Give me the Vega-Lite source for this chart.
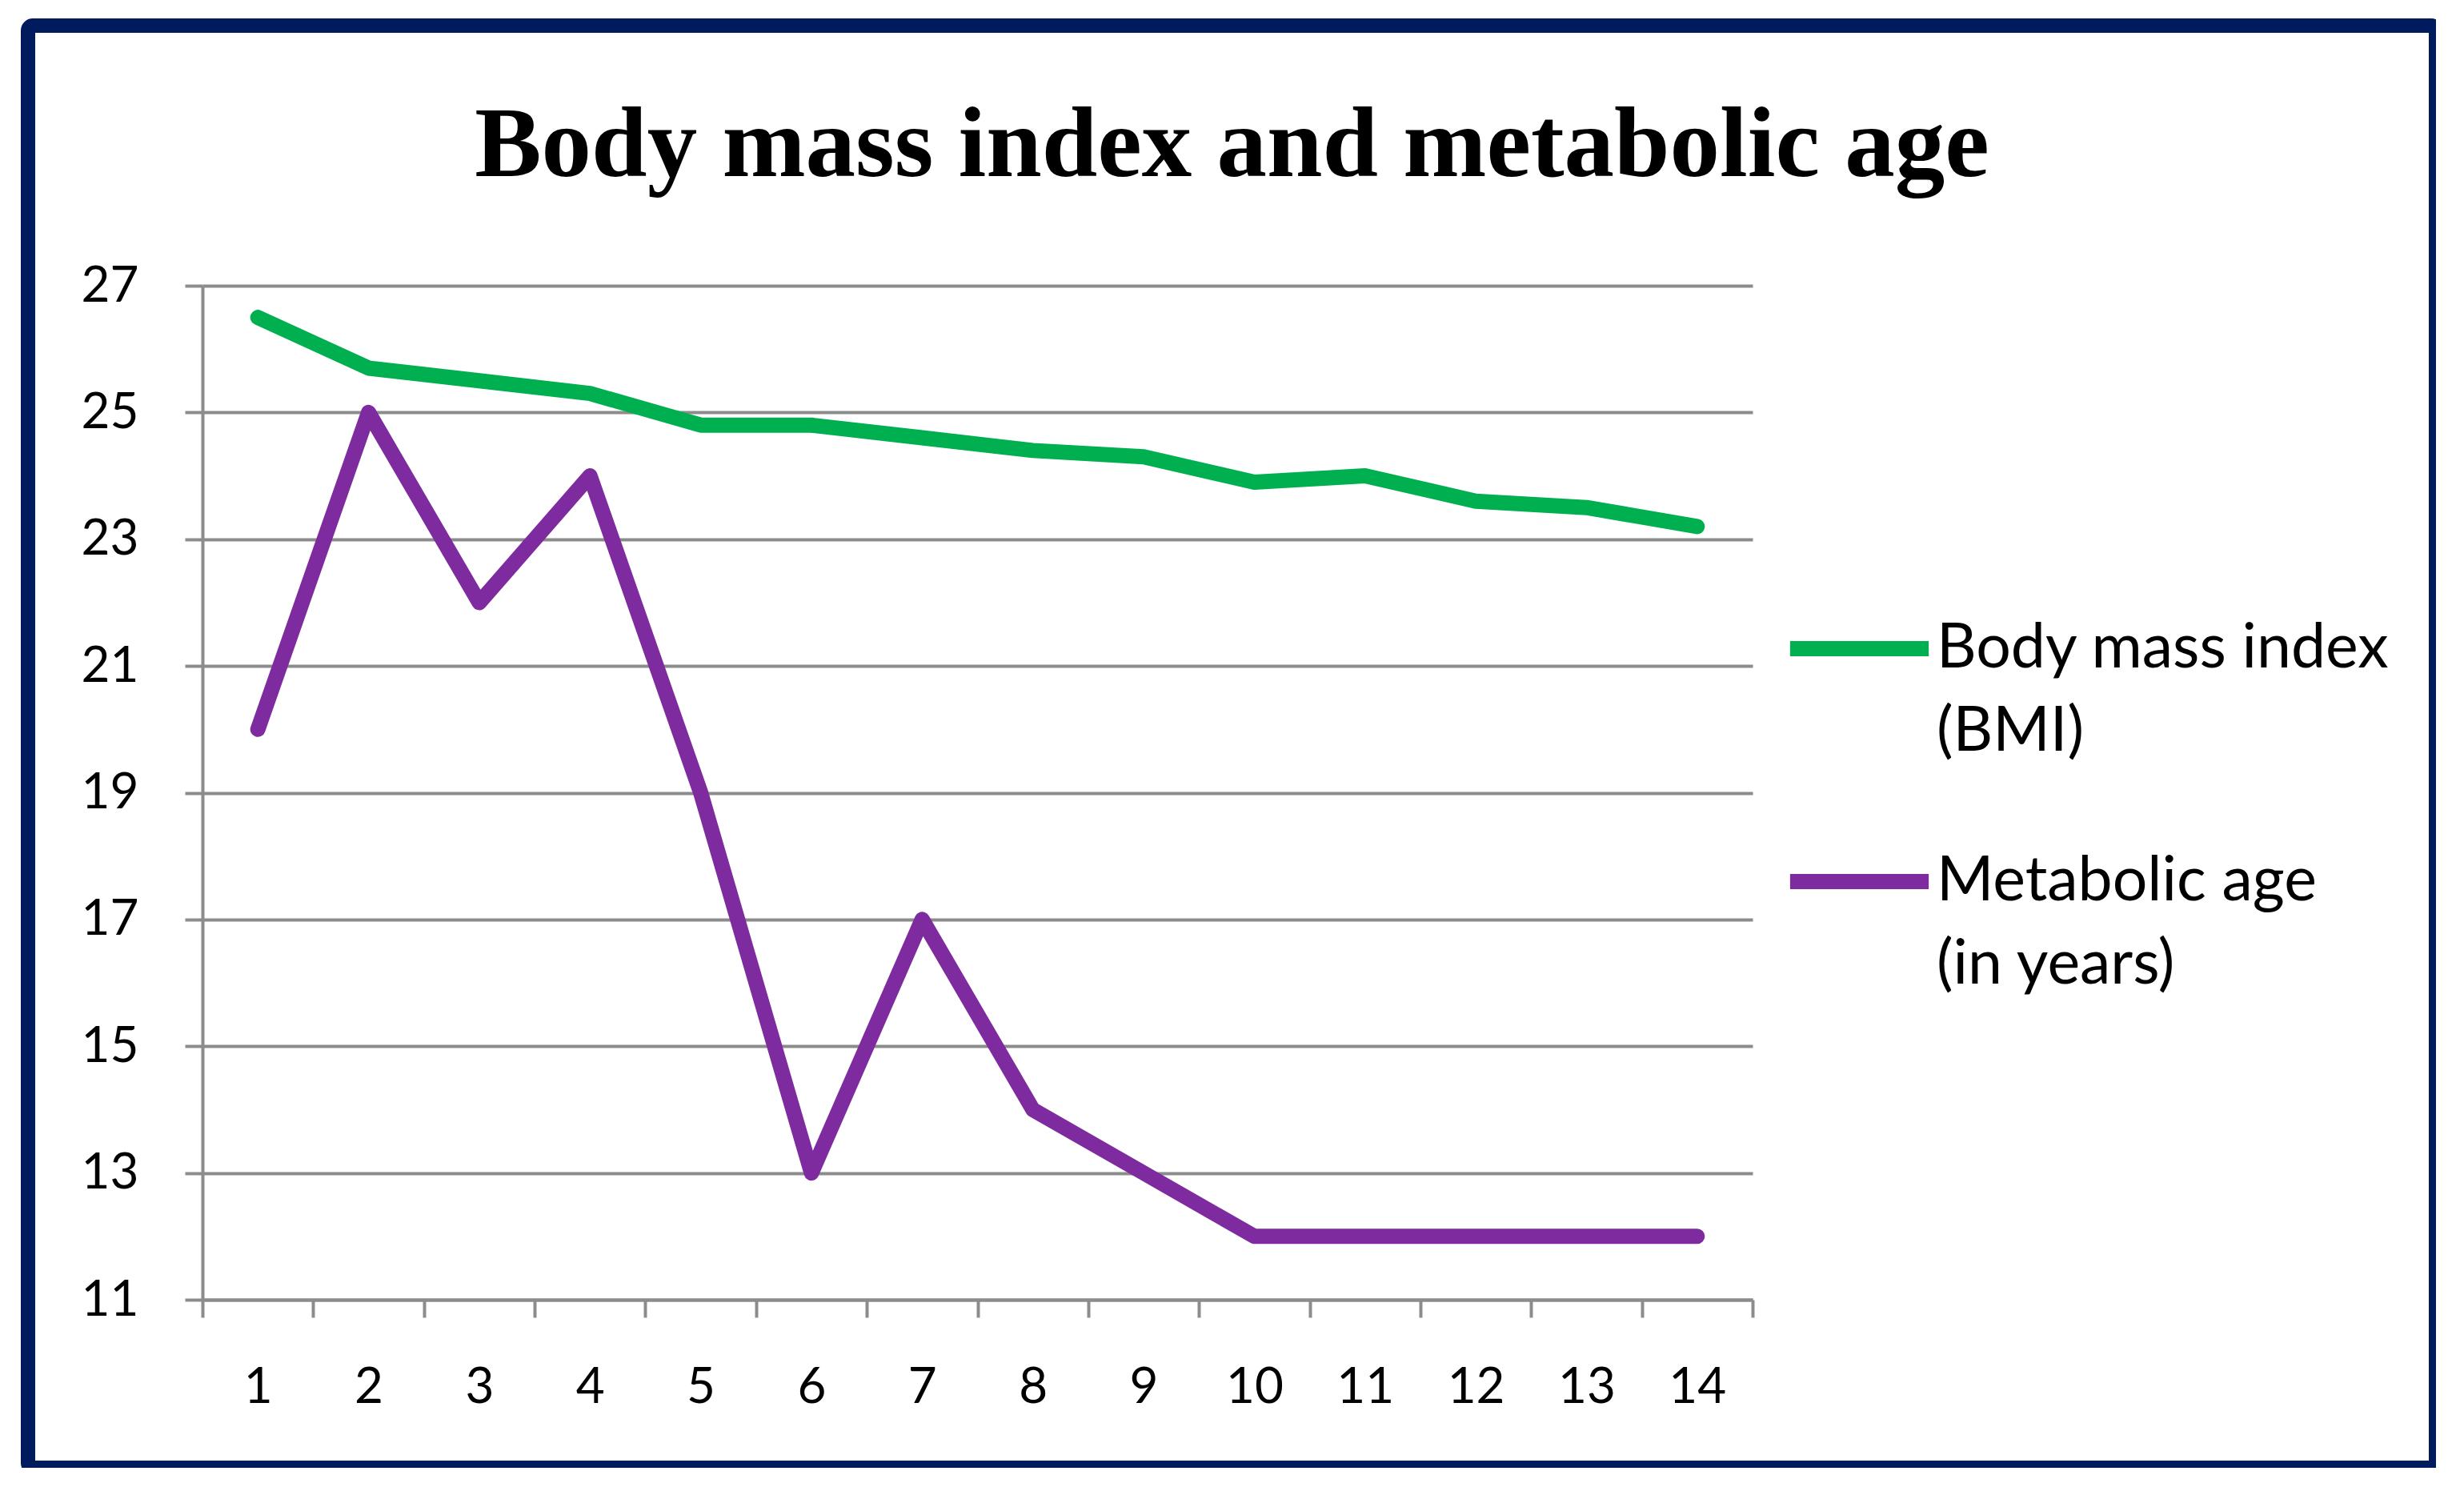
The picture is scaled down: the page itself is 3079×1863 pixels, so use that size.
{
  "$schema": "https://vega.github.io/schema/vega-lite/v6.json",
  "width": 3009,
  "height": 1802,
  "autosize": {"type": "none"},
  "padding": {"left": 35, "top": 32, "right": 0, "bottom": 0},
  "background": "white",
  "title": {
    "text": "Body mass index and metabolic age",
    "font": "Liberation Serif",
    "fontWeight": "bold",
    "fontSize": 125,
    "color": "black",
    "anchor": "middle",
    "frame": "group",
    "baseline": "alphabetic",
    "offset": -313
  },
  "config": {
    "view": {"stroke": "#001A5E", "strokeWidth": 18, "cornerRadius": 6},
    "style": {"guide-label": {"lineHeight": 104}}
  },
  "data": {
    "values": [
      {"point": 1, "series": "Body mass index (BMI)", "value": 26.5},
      {"point": 2, "series": "Body mass index (BMI)", "value": 25.7},
      {"point": 3, "series": "Body mass index (BMI)", "value": 25.5},
      {"point": 4, "series": "Body mass index (BMI)", "value": 25.3},
      {"point": 5, "series": "Body mass index (BMI)", "value": 24.8},
      {"point": 6, "series": "Body mass index (BMI)", "value": 24.8},
      {"point": 7, "series": "Body mass index (BMI)", "value": 24.6},
      {"point": 8, "series": "Body mass index (BMI)", "value": 24.4},
      {"point": 9, "series": "Body mass index (BMI)", "value": 24.3},
      {"point": 10, "series": "Body mass index (BMI)", "value": 23.9},
      {"point": 11, "series": "Body mass index (BMI)", "value": 24.0},
      {"point": 12, "series": "Body mass index (BMI)", "value": 23.6},
      {"point": 13, "series": "Body mass index (BMI)", "value": 23.5},
      {"point": 14, "series": "Body mass index (BMI)", "value": 23.2},
      {"point": 1, "series": "Metabolic age (in years)", "value": 20},
      {"point": 2, "series": "Metabolic age (in years)", "value": 25},
      {"point": 3, "series": "Metabolic age (in years)", "value": 22},
      {"point": 4, "series": "Metabolic age (in years)", "value": 24},
      {"point": 5, "series": "Metabolic age (in years)", "value": 19},
      {"point": 6, "series": "Metabolic age (in years)", "value": 13},
      {"point": 7, "series": "Metabolic age (in years)", "value": 17},
      {"point": 8, "series": "Metabolic age (in years)", "value": 14},
      {"point": 9, "series": "Metabolic age (in years)", "value": 13},
      {"point": 10, "series": "Metabolic age (in years)", "value": 12},
      {"point": 11, "series": "Metabolic age (in years)", "value": 12},
      {"point": 12, "series": "Metabolic age (in years)", "value": 12},
      {"point": 13, "series": "Metabolic age (in years)", "value": 12},
      {"point": 14, "series": "Metabolic age (in years)", "value": 12}
    ]
  },
  "mark": {"type": "line", "strokeWidth": 19, "strokeCap": "round", "strokeJoin": "round"},
  "encoding": {
    "x": {
      "field": "point",
      "type": "ordinal",
      "scale": {"type": "band", "range": [218, 2155], "paddingInner": 0, "paddingOuter": 0},
      "axis": {
        "title": null,
        "tickBand": "extent",
        "offset": -210,
        "grid": false,
        "domainColor": "#8C8C8C",
        "domainWidth": 4,
        "tickColor": "#8C8C8C",
        "tickWidth": 4,
        "tickSize": 22,
        "labelFont": "Lato",
        "labelFontSize": 62,
        "labelColor": "black",
        "labelPadding": 57,
        "labelAngle": 0
      }
    },
    "y": {
      "field": "value",
      "type": "quantitative",
      "scale": {"domain": [11, 27], "range": [1592, 325], "nice": false, "zero": false},
      "axis": {
        "title": null,
        "values": [11, 13, 15, 17, 19, 21, 23, 25, 27],
        "offset": -218,
        "grid": true,
        "gridColor": "#8C8C8C",
        "gridWidth": 4,
        "domainColor": "#8C8C8C",
        "domainWidth": 4,
        "tickColor": "#8C8C8C",
        "tickWidth": 4,
        "tickSize": 22,
        "labelFont": "Lato",
        "labelFontSize": 62,
        "labelColor": "black",
        "labelPadding": 58
      }
    },
    "color": {
      "field": "series",
      "type": "nominal",
      "scale": {"domain": ["Body mass index (BMI)", "Metabolic age (in years)"], "range": ["#00B050", "#7F2BA0"]},
      "legend": {
        "orient": "none",
        "legendX": 2192,
        "legendY": 682,
        "title": null,
        "symbolType": "stroke",
        "symbolSize": 30000,
        "symbolStrokeWidth": 19,
        "labelFont": "Lato",
        "labelFontSize": 77,
        "labelColor": "black",
        "labelLimit": 1000,
        "labelOffset": 0,
        "rowPadding": 52,
        "labelBaseline": "middle",
        "labelExpr": "datum.label == 'Body mass index (BMI)' ? ['Body mass index', '(BMI)'] : ['Metabolic age', '(in years)']"
      }
    }
  }
}
